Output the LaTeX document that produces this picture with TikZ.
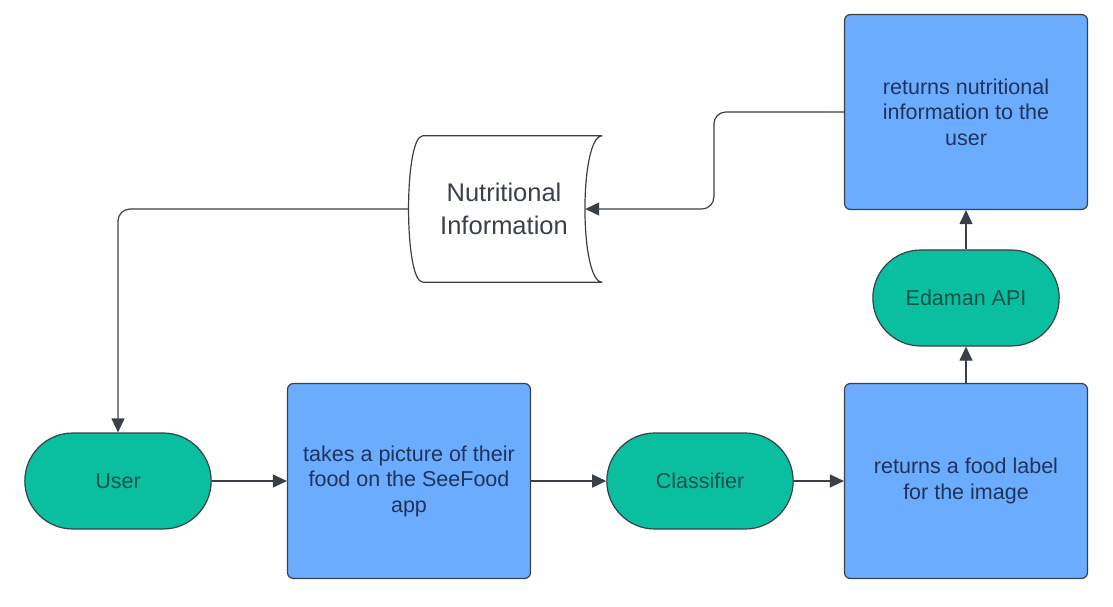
\documentclass[tikz,border=0pt]{standalone}
\usepackage{fontspec}
\setmainfont{Liberation Sans}
\usetikzlibrary{shapes.misc, arrows.meta, positioning, calc}
\definecolor{boxblue}{RGB}{108,172,255}
\definecolor{termgreen}{RGB}{10,190,160}
\definecolor{edgegray}{RGB}{58,64,72}
\definecolor{bluetext}{RGB}{30,52,92}
\definecolor{greentext}{RGB}{16,82,72}

\begin{document}
\begin{tikzpicture}[x=1pt,y=1pt, every node/.style={font=\fontsize{21.5}{25.5}\selectfont},
    stepbox/.style={draw=edgegray, line width=1.2pt, fill=boxblue, rounded corners=6pt, minimum width=243pt, minimum height=195pt, align=center, text=bluetext},
    term/.style={draw=edgegray, line width=1.2pt, fill=termgreen, rounded rectangle, minimum width=193pt, minimum height=96pt, text=greentext},
    flow/.style={-{Triangle[length=14pt,width=13pt]}, line width=1.2pt, edgegray}]
    \useasboundingbox (0,0) rectangle (1113,606);
    \node[term] (user) at (118,125) {User};
    \node[stepbox] (pic) at (409,125) {takes a picture of their\\food on the SeeFood\\app};
    \node[term] (cls) at (700,125) {Classifier};
    \node[stepbox] (lab) at (966,125) {returns a food label\\for the image};
    \node[term] (api) at (966,308) {Edaman API};
    \node[stepbox] (ret) at (966,494) {returns nutritional\\information to the\\user};
    \node[minimum width=162pt, minimum height=146pt, align=center, font=\fontsize{25.5}{33}\selectfont, text=edgegray] (nut) at (504,397) {Nutritional\\Information};
    % stored data outline
    \draw[edgegray, line width=1.2pt] (nut.north west) -- ([xshift=17pt]nut.north east)
        .. controls ([xshift=-6pt]nut.north east) and ([xshift=-6pt]nut.south east) .. ([xshift=17pt]nut.south east)
        -- (nut.south west)
        .. controls ([xshift=-19pt]nut.south west) and ([xshift=-19pt]nut.north west) .. cycle;
    \coordinate (nutL) at ([xshift=-14pt]nut.west);
    \draw[flow] (user.east) -- (pic.west);
    \draw[flow] (pic.east) -- (cls.west);
    \draw[flow] (cls.east) -- (lab.west);
    \draw[flow] (lab.north) -- (api.south);
    \draw[flow] (api.north) -- (ret.south);
    \draw[flow, rounded corners=12pt] (ret.west) -- ++(-130,0) |- (nut.east);
    \draw[flow, rounded corners=12pt] (nutL) -| (user.north);
\end{tikzpicture}
\end{document}
